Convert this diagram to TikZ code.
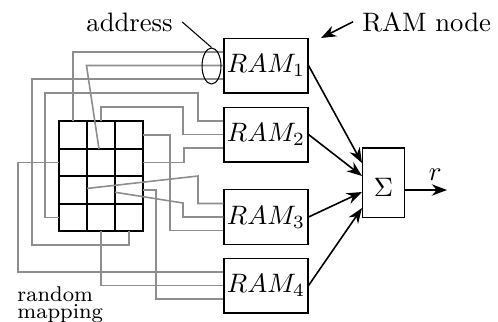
\documentclass[tikz,border=0pt]{standalone}
\usepackage{xcolor}
\usepackage{tikz}
\usetikzlibrary{positioning, arrows.meta, calc, shapes.geometric}
\definecolor{WireGray}{HTML}{8E8E8E}

\begin{document}
\begin{tikzpicture}[x=0.375pt, y=-0.375pt,
  rambox/.style={draw, minimum width=31.5pt, minimum height=20.6pt, inner sep=0pt},
  cell/.style={draw, line width=0.7pt, minimum width=10.5pt, minimum height=10.3pt, inner sep=0pt, outer sep=0pt},
  wire/.style={WireGray, line width=0.6pt},
  feed/.style={semithick, -{Stealth}}]
  \useasboundingbox (0,0) rectangle (498,321);
  \foreach \i/\y in {1/65.5, 2/134.5, 3/217, 4/285.5} {
    \node[rambox] (ram\i) at (266,\y) {$RAM_\i$};
    \coordinate (ram\i-1) at ($(ram\i.west)+(0,-13.5)$);
    \coordinate (ram\i-2) at (ram\i.west);
    \coordinate (ram\i-3) at ($(ram\i.west)+(0,13.5)$);
  }
  \foreach \r in {1,...,4}
    \foreach \c in {1,2,3}
      \node[cell] (c\r\c) at ({45+28*\c},{107.5+27.5*\r}) {};
  \draw[wire] (ram1-1) -| (c11);
  \draw[wire] (ram1-2) -- ++(-137,0) -- (c22);
  \draw[wire] (ram1-3) -| (32,245) -| (c43);
  \draw[wire] (ram2-1) -| (198,93) -| (45,217.5) -- (c41);
  \draw[wire] (ram2-2) -| (183,107) -| (c12);
  \draw[wire] (ram2-3) -| (184,162.5) -- (c23);
  \draw[wire] (ram3-1) -| (198,176) -- (c31);
  \draw[wire] (ram3-2) -| (183,203) -- (c32);
  \draw[wire] (ram3-3) -| (170,135) -- (c13);
  \draw[wire] (ram4-1) -| (18,162.5) -- (c21);
  \draw[wire] (ram4-2) -| (c42);
  \draw[wire] (ram4-3) -| (156,190) -- (c33);
  \node[draw, ellipse, minimum width=7.1pt, minimum height=13.5pt, inner sep=0pt] (ring) at (211.5,66) {};
  \node[anchor=base west] (addr) at (77,31) {address};
  \draw (addr.east) -- (ring.north);
  \node[anchor=base west] (ramlbl) at (353,31) {RAM node};
  \coordinate (ramtip) at (321,38);
  \draw[feed] (ramlbl.west) -- (ramtip);
  \node[draw, minimum width=15.75pt, minimum height=25.9pt, inner sep=0pt, text height=10.2pt] (sum) at (383.5,182.5) {$\Sigma$};
  \foreach \i/\d in {1/-19.5, 2/-6.5, 3/9.5, 4/25.5}
    \draw[feed] (ram\i.east) -- ($(sum.west)+(0,\d)$);
  \coordinate (rout) at (447,190);
  \draw[feed] (sum.east |- rout) -- node[pos=0.72, above] {$r$} (rout);
  \node[anchor=north west, align=left, font=\footnotesize] (mapping) at (8,277.3) {random\\[-3pt]mapping};
\end{tikzpicture}
\end{document}
